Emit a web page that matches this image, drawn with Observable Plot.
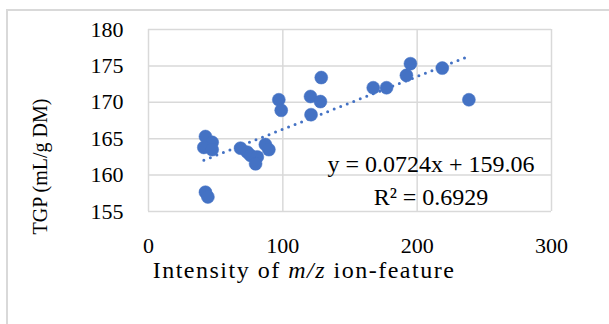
<!DOCTYPE html>
<html>
<head>
<meta charset="utf-8">
<script src="https://cdn.jsdelivr.net/npm/d3@7"></script>
<script src="https://cdn.jsdelivr.net/npm/@observablehq/plot@0.6"></script>
<style>
  html, body { margin: 0; padding: 0; background: #fff; }
  svg { display: block; }
</style>
</head>
<body>
<script>
// Data
const intensity = [42.4, 47.4, 41.2, 47.4, 42.4, 44.2, 68.5, 73.5, 76, 81, 79.7, 87, 89.6, 97, 98.8, 120.6, 121, 128, 128.6, 167.3, 177.2, 192, 195, 218.7, 238.5];
const tgp = [165.3, 164.5, 163.8, 163.5, 157.65, 157.0, 163.7, 163.15, 162.7, 162.5, 161.55, 164.2, 163.5, 170.35, 168.9, 170.8, 168.3, 170.1, 173.4, 172.0, 172.0, 173.7, 175.3, 174.7, 170.35];
const xTicks = [0, 100, 200, 300];
const yTicks = [155, 160, 165, 170, 175, 180];
const slope = 0.0724;
const intercept = 159.06;
const equationLabel = ["y = 0.0724x + 159.06"];
const r2Label = ["R² = 0.6929"];
const xTitle = ["Intensity of m/z ion-feature"];
const yTitle = ["TGP (mL/g DM)"];

const points = intensity.map((x, i) => ({x, y: tgp[i]}));
const xMin = d3.min(intensity), xMax = d3.max(intensity);
const trend = [xMin, xMax].map(x => ({x, y: slope * x + intercept}));

const blue = "#4472C4";
const gridColor = "#d9d9d9";

const svg = Plot.plot({
  width: 609,
  height: 324,
  marginLeft: 148,
  marginRight: 58,
  marginTop: 29,
  marginBottom: 113,
  x: {domain: [0, 300]},
  y: {domain: [155, 180]},
  style: {fontFamily: "Liberation Serif", fontSize: "22px", color: "#000", background: "#fff"},
  marks: [
    Plot.gridX(xTicks, {stroke: gridColor, strokeOpacity: 1, strokeWidth: 1.5}),
    Plot.gridY(yTicks, {stroke: gridColor, strokeOpacity: 1, strokeWidth: 1.5}),
    Plot.axisX(xTicks, {tickSize: 0, tickPadding: 26, label: null, fontSize: 22}),
    Plot.axisY(yTicks, {tickSize: 0, tickPadding: 25, label: null, fontSize: 22}),
    Plot.line(trend, {x: "x", y: "y", stroke: blue, strokeWidth: 3, strokeDasharray: "0,7", strokeLinecap: "round"}),
    Plot.dot(points, {x: "x", y: "y", r: 6.5, fill: blue, stroke: blue, strokeWidth: 0.5}),
    Plot.text(equationLabel, {text: d => d, frameAnchor: "bottom", dx: 81, dy: -47, lineAnchor: "middle", fontSize: 24}),
    Plot.text(r2Label, {text: d => d, frameAnchor: "bottom", dx: 81, dy: -14, lineAnchor: "middle", fontSize: 24}),
    Plot.text(xTitle, {text: d => d, frameAnchor: "bottom", dx: -46, dy: 59, lineAnchor: "middle", textAnchor: "middle", fontSize: 24, className: "xtitle"}),
    Plot.text(yTitle, {text: d => d, frameAnchor: "left", rotate: -90, dx: -108, dy: 46, lineAnchor: "middle", textAnchor: "middle", fontSize: 20, className: "ytitle"})
  ]
});

// outer chart-area border
d3.select(svg).insert("rect", ":first-child")
  .attr("x", 7).attr("y", 10).attr("width", 640).attr("height", 340)
  .attr("fill", "none").attr("stroke", gridColor).attr("stroke-width", 2);

// italicize m/z in the x title
const t = d3.select(svg).select(".xtitle text");
t.text(null).attr("letter-spacing", "1.5px");
t.append("tspan").text("Intensity of ");
t.append("tspan").attr("font-style", "italic").text("m/z");
t.append("tspan").text(" ion-feature");

document.body.appendChild(svg);
</script>
</body>
</html>
